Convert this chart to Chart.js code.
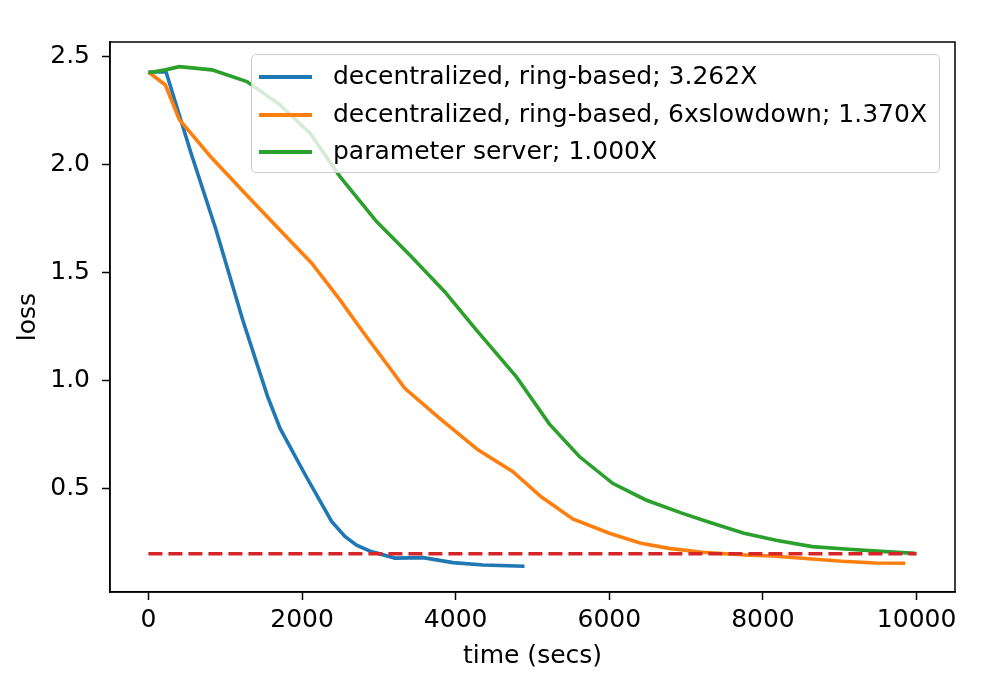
<!DOCTYPE html>
<html>
<head>
<meta charset="utf-8">
<script src="https://cdn.jsdelivr.net/npm/chart.js@4"></script>
<style>
    body { margin: 0; background: #fff; }
    #wrap { position: relative; width: 1002px; height: 675px; }
    #legend {
        position: absolute; left: 251px; top: 54px; width: 689px; height: 119px;
        background: rgba(255, 255, 255, 0.8); border: 1px solid #cccccc; border-radius: 5px;
        font-family: "DejaVu Sans", sans-serif; font-size: 25px; color: #000;
        box-sizing: border-box;
    }
    .item { position: absolute; left: 7px; height: 30px; line-height: 30px; white-space: nowrap; }
    .swatch { display: inline-block; width: 53px; height: 4px; vertical-align: middle; margin-right: 21px; }
</style>
</head>
<body>
<div id="wrap">
    <canvas id="lossChart" width="1002" height="675"></canvas>
    <div id="legend"></div>
</div>
<script>
const seriesNames = [
    'decentralized, ring-based; 3.262X',
    'decentralized, ring-based, 6xslowdown; 1.370X',
    'parameter server; 1.000X'
];
const seriesColors = ['#1f77b4', '#ff7f0e', '#2ca02c'];

const xTicks = [0, 2000, 4000, 6000, 8000, 10000];
const yTicks = [0.5, 1.0, 1.5, 2.0, 2.5];

// time (secs) / loss pairs
const ringTime = [0, 230, 550, 880, 1230, 1550, 1714, 2050, 2385, 2558, 2710, 2900, 3208, 3576, 3965, 4355, 4896];
const ringLoss = [2.43, 2.43, 2.06, 1.70, 1.28, 0.93, 0.78, 0.56, 0.35, 0.28, 0.24, 0.21, 0.18, 0.182, 0.159, 0.148, 0.142];

const slowTime = [0, 221, 403, 805, 1238, 1671, 2126, 2494, 2775, 3338, 3792, 4290, 4745, 5113, 5524, 6000, 6411, 6779, 7212, 7818, 8121, 8597, 9030, 9463, 9853];
const slowLoss = [2.43, 2.37, 2.21, 2.04, 1.876, 1.714, 1.545, 1.375, 1.236, 0.966, 0.827, 0.681, 0.58, 0.464, 0.361, 0.295, 0.249, 0.225, 0.207, 0.193, 0.19, 0.177, 0.165, 0.157, 0.156];

const psTime = [0, 221, 403, 827, 1282, 1714, 2104, 2494, 2970, 3424, 3857, 4268, 4788, 5221, 5610, 6043, 6476, 6953, 7342, 7753, 8186, 8641, 9117, 9593, 9983];
const psLoss = [2.427, 2.44, 2.455, 2.44, 2.386, 2.278, 2.147, 1.946, 1.738, 1.575, 1.413, 1.236, 1.02, 0.80, 0.65, 0.526, 0.449, 0.387, 0.341, 0.295, 0.261, 0.233, 0.221, 0.21, 0.202];

const targetTime = [0, 10000];
const targetLoss = [0.2, 0.2];

const toPoints = (xs, ys) => xs.map((x, i) => ({ x: x, y: ys[i] }));

const frame = {
    id: 'frame',
    afterDraw(chart) {
        const { ctx, chartArea: a } = chart;
        ctx.save();
        ctx.strokeStyle = '#000';
        ctx.lineWidth = 1.5;
        ctx.strokeRect(a.left, a.top, a.right - a.left, a.bottom - a.top);
        ctx.restore();
    }
};

const font = { family: 'DejaVu Sans', size: 25 };

new Chart(document.getElementById('lossChart'), {
    type: 'line',
    data: {
        datasets: [
            { label: seriesNames[0], data: toPoints(ringTime, ringLoss), borderColor: seriesColors[0], order: 3 },
            { label: seriesNames[1], data: toPoints(slowTime, slowLoss), borderColor: seriesColors[1], order: 2 },
            { label: seriesNames[2], data: toPoints(psTime, psLoss), borderColor: seriesColors[2], order: 1 },
            { label: 'target', data: toPoints(targetTime, targetLoss), borderColor: '#d62728', borderDash: [14, 6], order: 0 }
        ]
    },
    options: {
        responsive: false,
        animation: false,
        elements: {
            line: { borderWidth: 3.6, tension: 0, fill: false },
            point: { radius: 0 }
        },
        layout: { padding: { left: 0, top: 42, right: 47, bottom: 0 } },
        plugins: { legend: { display: false }, tooltip: { enabled: false } },
        scales: {
            x: {
                type: 'linear',
                min: -500,
                max: 10500,
                afterFit: s => { s.height = 83; },
                afterBuildTicks: s => { s.ticks = xTicks.map(v => ({ value: v })); },
                border: { color: '#000', width: 1.5 },
                grid: { drawOnChartArea: false, color: '#000', tickLength: 8, tickWidth: 1.5 },
                ticks: {
                    autoSkip: false, color: '#000', font: font, padding: 5,
                    maxRotation: 0, callback: v => String(v)
                },
                title: { display: true, text: 'time (secs)', color: '#000', font: font, padding: { top: 0, bottom: 4 } }
            },
            y: {
                min: 0.023,
                max: 2.569,
                afterFit: s => { s.width = 110; },
                afterBuildTicks: s => { s.ticks = yTicks.map(v => ({ value: v })); },
                border: { color: '#000', width: 1.5 },
                grid: { drawOnChartArea: false, color: '#000', tickLength: 8, tickWidth: 1.5 },
                ticks: {
                    autoSkip: false, color: '#000', font: font, padding: 12,
                    callback: v => v.toFixed(1)
                },
                title: { display: true, text: 'loss', color: '#000', font: font, padding: { top: 13, bottom: 0 } }
            }
        }
    },
    plugins: [frame]
});

const legend = document.getElementById('legend');
seriesNames.forEach((name, i) => {
    const row = document.createElement('div');
    row.className = 'item';
    row.style.top = (6 + Math.round(i * 37.5)) + 'px';
    row.innerHTML = '<span class="swatch" style="background:' + seriesColors[i] + '"></span>' + name;
    legend.appendChild(row);
});
</script>
</body>
</html>
